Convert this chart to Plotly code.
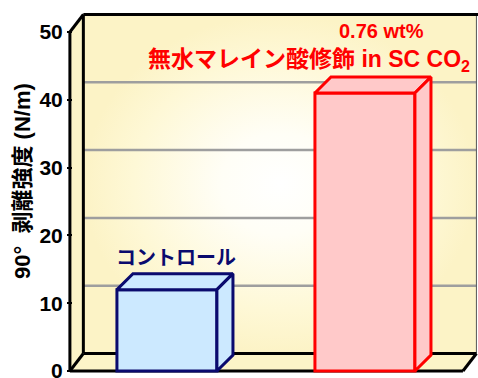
import plotly.graph_objects as go

# ---------------- data ----------------
categories = ["コントロール", "0.76 wt% 無水マレイン酸修飾 in SC CO₂"]
peel_strength = [12, 41]          # 90° peel strength, N/m
y_tick_values = [0, 10, 20, 30, 40, 50]
y_tick_labels = ["0", "10", "20", "30", "40", "50"]
y_title = "90°  剥離強度 (N/m)"

# ---------------- styling / geometry ----------------
W, H = 478, 378
X_RANGE = [-0.843, 1.571]
Y_RANGE = [-1.03, 54.72]
FONT = "Liberation Sans, Arial, Noto Sans CJK JP, sans-serif"

positions = list(range(len(categories)))
bar_w = 0.505
wall_dx, wall_dy = 0.068, 2.58      # depth of the chart box
bar_dx, bar_dy = 0.081, 2.36        # depth of the bars
front_left, front_right = -0.49, 1.495
back_left, back_right = front_left + wall_dx, front_right + wall_dx
y_bot, y_top = min(y_tick_values), max(y_tick_values)

bar_fill = ["#cce9ff", "#ffc9c9"]
bar_line = ["#0a0a6e", "#ff0000"]
wall_yellow = "#fcf4c8"

fig = go.Figure()

# ---- subplot 1: chart box (walls, grid) ----
fig.add_trace(go.Scatter(
    x=[back_left, back_right, back_right, back_left, back_left],
    y=[y_bot + wall_dy, y_bot + wall_dy, y_top + wall_dy, y_top + wall_dy, y_bot + wall_dy],
    fill="toself", mode="lines", line=dict(width=0),
    fillgradient=dict(type="radial",
                      colorscale=[[0, "#ffffff"], [0.3, "#fffef6"], [0.75, "#fef8d6"], [1, "#fcf3c6"]]),
    hoverinfo="skip", showlegend=False))

fig.add_trace(go.Scatter(
    x=[front_left, front_left, back_left, back_left, front_left],
    y=[y_bot, y_top, y_top + wall_dy, y_bot + wall_dy, y_bot],
    fill="toself", fillcolor=wall_yellow, mode="lines", line=dict(width=0),
    hoverinfo="skip", showlegend=False))

fig.add_trace(go.Scatter(
    x=[front_left, front_right, back_right, back_left, front_left],
    y=[y_bot, y_bot, y_bot + wall_dy, y_bot + wall_dy, y_bot],
    fill="toself", fillcolor=wall_yellow, mode="lines", line=dict(width=0),
    hoverinfo="skip", showlegend=False))

gx, gy = [], []
for v in y_tick_values[1:-1]:
    gx += [back_left, back_right, None]
    gy += [v + wall_dy, v + wall_dy, None]
fig.add_trace(go.Scatter(x=gx, y=gy, mode="lines",
                         line=dict(color="#9e9e9e", width=2.5),
                         hoverinfo="skip", showlegend=False))

# thin right edge of the back wall
fig.add_trace(go.Scatter(x=[back_right, back_right],
                         y=[y_bot + wall_dy, y_top + wall_dy], mode="lines",
                         line=dict(color="#555555", width=1),
                         hoverinfo="skip", showlegend=False))

ex, ey = [], []
segments = [
    ((back_left, y_top + wall_dy), (back_right + 0.05, y_top + wall_dy)),
    ((back_left, y_bot + wall_dy), (back_left, y_top + wall_dy)),
    ((back_left, y_bot + wall_dy), (back_right, y_bot + wall_dy)),
    ((front_left, y_top), (back_left, y_top + wall_dy)),
    ((front_left, y_bot), (back_left, y_bot + wall_dy)),
    ((front_right, y_bot), (back_right, y_bot + wall_dy)),
    ((front_left, y_bot), (front_left, y_top)),
    ((front_left, y_bot), (front_right, y_bot)),
]
for (x0, y0), (x1, y1) in segments:
    ex += [x0, x1, None]
    ey += [y0, y1, None]
fig.add_trace(go.Scatter(x=ex, y=ey, mode="lines",
                         line=dict(color="black", width=3),
                         hoverinfo="skip", showlegend=False))

# ---- subplot 2 (overlay): the bars ----
fig.add_trace(go.Bar(
    x=positions, y=peel_strength, width=bar_w,
    marker=dict(color=bar_fill, line=dict(color=bar_line, width=3)),
    xaxis="x2", yaxis="y2", hoverinfo="skip", showlegend=False))

for p, v, fc, lc in zip(positions, peel_strength, bar_fill, bar_line):
    l, r = p - bar_w / 2, p + bar_w / 2
    # top face
    fig.add_trace(go.Scatter(
        x=[l, l + bar_dx, r + bar_dx, r, l],
        y=[v, v + bar_dy, v + bar_dy, v, v],
        fill="toself", fillcolor=fc, mode="lines", line=dict(color=lc, width=3),
        xaxis="x2", yaxis="y2", hoverinfo="skip", showlegend=False))
    # side face
    fig.add_trace(go.Scatter(
        x=[r, r, r + bar_dx, r + bar_dx, r],
        y=[0, v, v + bar_dy, bar_dy, 0],
        fill="toself", fillcolor=fc, mode="lines", line=dict(color=lc, width=3),
        xaxis="x2", yaxis="y2", hoverinfo="skip", showlegend=False))

# ---- labels ----
fig.add_annotation(x=positions[0] + 0.046, y=peel_strength[0] + 4.7,
                   xref="x2", yref="y2", text=categories[0], showarrow=False,
                   font=dict(size=20, color="#0a0a6e", family=FONT, weight="bold"))
fig.add_annotation(x=positions[1] + 0.085, y=50.15, xref="x2", yref="y2",
                   text="0.76 wt%", showarrow=False,
                   font=dict(size=20, color="#ff0000", family=FONT, weight="bold"))
fig.add_annotation(x=positions[1] - 0.282, y=45.87, xref="x2", yref="y2",
                   text="無水マレイン酸修飾 in SC CO<sub>2</sub>", showarrow=False,
                   font=dict(size=23, color="#ff0000", family=FONT, weight="bold"))
# y-axis title
fig.add_annotation(x=22 / W, y=1 - 181 / H, xref="paper", yref="paper",
                   xanchor="center", yanchor="middle",
                   text=y_title, textangle=-90, showarrow=False,
                   font=dict(size=22, color="black", family=FONT, weight="bold"))

fig.update_layout(
    width=W, height=H,
    margin=dict(l=0, r=0, t=0, b=0, autoexpand=False),
    paper_bgcolor="white", plot_bgcolor="white",
    showlegend=False, barmode="overlay",
    font=dict(family=FONT, color="black"),
    xaxis=dict(range=X_RANGE, domain=[0, 1], visible=False, fixedrange=True,
               automargin=False),
    yaxis=dict(range=Y_RANGE, domain=[0, 1], anchor="free", position=72 / W,
               automargin=False,
               tickvals=y_tick_values, ticktext=y_tick_labels,
               ticks="outside", ticklen=5, tickwidth=2, tickcolor="black",
               ticklabeloverflow="allow",
               showgrid=False, zeroline=False, showline=False,
               tickfont=dict(size=21, family=FONT, color="black", weight="bold")),
    xaxis2=dict(range=X_RANGE, overlaying="x", visible=False, fixedrange=True),
    yaxis2=dict(range=Y_RANGE, overlaying="y", anchor="x2", visible=False),
)

fig.write_html("out.html")
